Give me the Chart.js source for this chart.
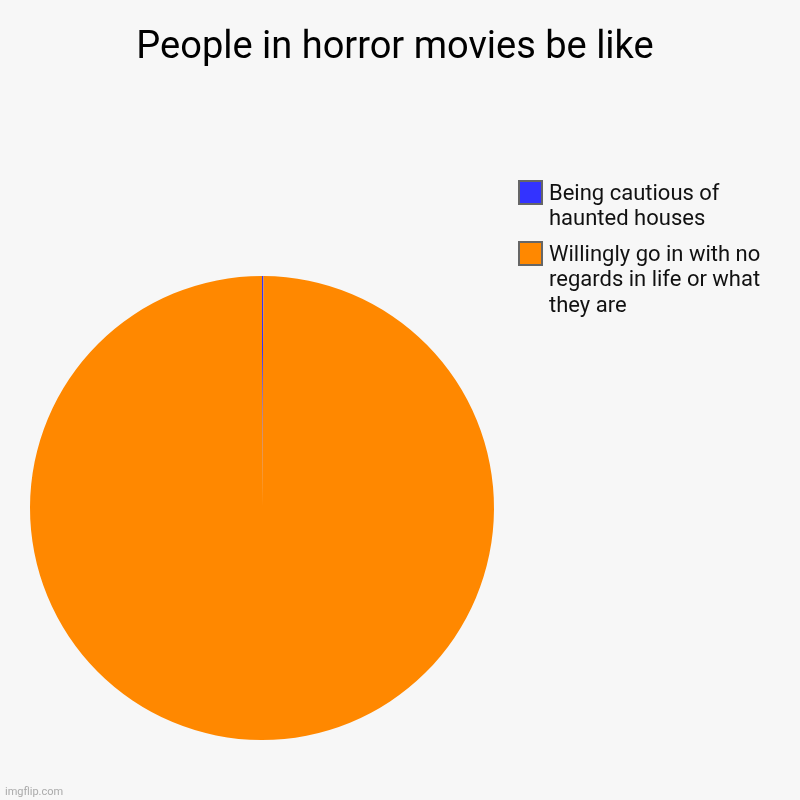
<!DOCTYPE html>
<html>
<head>
<meta charset="utf-8">
<script src="https://cdn.jsdelivr.net/npm/chart.js@4/dist/chart.umd.min.js"></script>
<style>
  html, body { margin: 0; padding: 0; background: #f7f7f7; }
  canvas { display: block; }
</style>
</head>
<body>
<canvas id="pieChart" width="800" height="800"></canvas>
<script>
const chartTitle = 'People in horror movies be like';
const categories = [
  'Being cautious of haunted houses',
  'Willingly go in with no regards in life or what they are'
];
const values = [1, 999];
const colors = ['#3333ff', '#ff8800'];

// word-wrap a label into lines no wider than maxW
function wrapText(ctx, text, maxW) {
  const words = text.split(' ');
  const lines = [];
  let line = '';
  words.forEach(w => {
    const test = line ? line + ' ' + w : w;
    if (ctx.measureText(test).width > maxW && line) {
      lines.push(line);
      line = w;
    } else {
      line = test;
    }
  });
  if (line) lines.push(line);
  return lines;
}

const decorPlugin = {
  id: 'decor',
  beforeDraw(chart) {
    const ctx = chart.ctx;
    ctx.save();
    ctx.fillStyle = '#f7f7f7';
    ctx.fillRect(0, 0, chart.width, chart.height);
    ctx.restore();
  },
  afterDraw(chart) {
    const ctx = chart.ctx;
    ctx.save();
    // title
    ctx.fillStyle = '#000';
    ctx.font = '38px Roboto';
    ctx.textAlign = 'center';
    ctx.textBaseline = 'middle';
    ctx.fillText(chartTitle, 395, 48);

    // legend
    ctx.font = '22px Roboto';
    ctx.textAlign = 'left';
    const lineH = 25.5;
    let y = 181;
    chart.data.labels.forEach((label, i) => {
      ctx.fillStyle = chart.data.datasets[0].backgroundColor[i];
      ctx.fillRect(519, y, 23, 23);
      ctx.strokeStyle = '#666';
      ctx.lineWidth = 2;
      ctx.strokeRect(519, y, 23, 23);
      ctx.fillStyle = '#111';
      const lines = wrapText(ctx, label, 235);
      lines.forEach((ln, k) => {
        ctx.fillText(ln, 549, y + 13 + k * lineH);
      });
      y += Math.max(lines.length, 2) * lineH + 10;
    });

    // watermark
    ctx.fillStyle = '#aaa';
    ctx.font = '11px Roboto';
    ctx.textBaseline = 'alphabetic';
    ctx.fillText('imgflip.com', 5, 795);
    ctx.restore();
  }
};

new Chart(document.getElementById('pieChart').getContext('2d'), {
  type: 'pie',
  data: {
    labels: categories,
    datasets: [{
      data: values,
      backgroundColor: colors,
      borderWidth: 0
    }]
  },
  options: {
    responsive: false,
    animation: false,
    devicePixelRatio: 1,
    layout: { padding: { left: 30, right: 306, top: 276, bottom: 60 } },
    plugins: {
      legend: { display: false },
      title: { display: false },
      tooltip: { enabled: false }
    }
  },
  plugins: [decorPlugin]
});
</script>
</body>
</html>
